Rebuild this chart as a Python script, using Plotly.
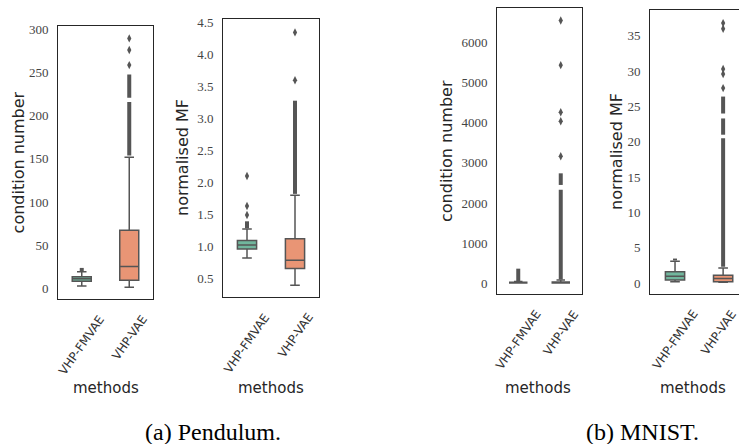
import plotly.graph_objects as go

W, H = 739, 444

methods = ["VHP-FMVAE", "VHP-VAE"]
box_fill = ["#71b69d", "#e99575"]
edge = "#555555"

# ---- (a) Pendulum: condition number ----
pc_q1 = [8.0, 9.0]
pc_med = [10.7, 25.0]
pc_q3 = [13.0, 67.0]
pc_lo = [2.3, 1.0]
pc_hi = [18.8, 152.0]
pc_dense = [[(19.5, 23.4)], [(154, 216), (221, 248)]]
pc_sparse = [[], [259, 276.5, 290]]

# ---- (a) Pendulum: normalised MF ----
pm_q1 = [0.956, 0.65]
pm_med = [1.018, 0.78]
pm_q3 = [1.09, 1.118]
pm_lo = [0.816, 0.39]
pm_hi = [1.27, 1.80]
pm_dense = [[(1.28, 1.39)], [(1.82, 3.28)]]
pm_sparse = [[1.49, 1.63, 2.10], [3.60, 4.35]]

# ---- (b) MNIST: condition number ----
mc_q1 = [5, 3]
mc_med = [10, 10]
mc_q3 = [20, 30]
mc_lo = [0, 0]
mc_hi = [40, 75]
mc_dense = [[(45, 360)], [(90, 2330), (2450, 2740)]]
mc_sparse = [[], [3165, 4040, 4265, 5440, 6555]]

# ---- (b) MNIST: normalised MF ----
mm_q1 = [0.42, 0.18]
mm_med = [0.98, 0.66]
mm_q3 = [1.59, 1.12]
mm_lo = [0.18, 0.1]
mm_hi = [3.09, 2.15]
mm_dense = [[(3.2, 3.47)], [(2.3, 20.5), (21.0, 23.3), (24.0, 26.4)]]
mm_sparse = [[], [27.6, 29.6, 30.3, 36.0, 36.8]]

y_titles = ["condition number", "normalised MF", "condition number", "normalised MF"]
x_title = "methods"
captions = ["(a) Pendulum.", "(b) MNIST."]

ticks = [
    [0, 50, 100, 150, 200, 250, 300],
    [0.5, 1.0, 1.5, 2.0, 2.5, 3.0, 3.5, 4.0, 4.5],
    [0, 1000, 2000, 3000, 4000, 5000, 6000],
    [0, 5, 10, 15, 20, 25, 30, 35],
]
tick_text = [
    [str(t) for t in ticks[0]],
    ["%.1f" % t for t in ticks[1]],
    [str(t) for t in ticks[2]],
    [str(t) for t in ticks[3]],
]

panels = [
    (pc_q1, pc_med, pc_q3, pc_lo, pc_hi, pc_dense, pc_sparse),
    (pm_q1, pm_med, pm_q3, pm_lo, pm_hi, pm_dense, pm_sparse),
    (mc_q1, mc_med, mc_q3, mc_lo, mc_hi, mc_dense, mc_sparse),
    (mm_q1, mm_med, mm_q3, mm_lo, mm_hi, mm_dense, mm_sparse),
]

# layout geometry (pixels)
px_x = [(58, 153), (223, 319), (497, 582), (650, 739)]
px_y = [(23, 298), (16, 296), (5, 293), (7, 293)]
y_ranges = [[-12.7, 304.6], [0.204, 4.562], [-273, 6868], [-1.55, 38.66]]
x_ranges = [[-0.5, 1.5], [-0.5, 1.5], [-0.5, 1.5], [-0.52, 1.33]]
ytitle_x = [18, 183, 447, 617]
methods_x = [105.5, 271, 538, 693]

fig = go.Figure()
layout = dict(
    width=W, height=H, margin=dict(l=0, r=0, t=0, b=0),
    plot_bgcolor="white", paper_bgcolor="white", showlegend=False,
)
annotations = []

for p, (q1, med, q3, lo, hi, dense, sparse) in enumerate(panels):
    xa = "x" if p == 0 else "x%d" % (p + 1)
    ya = "y" if p == 0 else "y%d" % (p + 1)
    for i in range(2):
        fig.add_trace(go.Box(
            x=[i], q1=[q1[i]], median=[med[i]], q3=[q3[i]],
            lowerfence=[lo[i]], upperfence=[hi[i]],
            fillcolor=box_fill[i], line=dict(color=edge, width=1.5),
            boxpoints=False, width=0.4, whiskerwidth=0.5,
            xaxis=xa, yaxis=ya, hoverinfo="skip",
        ))
        for (a, b) in dense[i]:
            fig.add_trace(go.Scatter(
                x=[i, i], y=[a, b], mode="lines",
                line=dict(color=edge, width=4),
                xaxis=xa, yaxis=ya, hoverinfo="skip",
            ))
        if sparse[i]:
            fig.add_trace(go.Scatter(
                x=[i] * len(sparse[i]), y=sparse[i], mode="markers",
                marker=dict(symbol="diamond-tall", size=6, color=edge),
                xaxis=xa, yaxis=ya, hoverinfo="skip",
            ))
    x0, x1 = px_x[p]
    yt, yb = px_y[p]
    xkey = "xaxis" if p == 0 else "xaxis%d" % (p + 1)
    ykey = "yaxis" if p == 0 else "yaxis%d" % (p + 1)
    layout[xkey] = dict(
        domain=[x0 / W, min(1.0, x1 / W)], anchor=ya, range=x_ranges[p],
        showline=True, linecolor="#262626", linewidth=1, mirror=True,
        showgrid=False, zeroline=False, showticklabels=False, ticks="",
        fixedrange=True,
    )
    layout[ykey] = dict(
        domain=[1 - yb / H, 1 - yt / H], anchor=xa, range=y_ranges[p],
        showline=True, linecolor="#262626", linewidth=1,
        mirror=(p != 3),
        showgrid=False, zeroline=False, ticks="",
        tickvals=ticks[p], ticktext=tick_text[p],
        tickfont=dict(family="Liberation Serif", size=13, color="#444444"),
        ticklabelstandoff=6,
    )
    # rotated category labels
    for i in range(2):
        xi = i
        if p == 3 and i == 1:
            xi = 0.9  # keep the label inside the picture edge
        annotations.append(dict(
            x=xi, xref=xa, y=1 - (yb + 11) / H, yref="paper",
            text=methods[i], textangle=-55, showarrow=False,
            xanchor="center", yanchor="top",
            font=dict(family="DejaVu Sans", size=12, color="#333333"),
        ))
    annotations.append(dict(
        x=ytitle_x[p] / W, y=1 - (yt + yb) / 2 / H, xref="paper", yref="paper",
        text=y_titles[p], textangle=-90, showarrow=False,
        xanchor="center", yanchor="middle",
        font=dict(family="DejaVu Sans", size=16, color="#262626"),
    ))
    annotations.append(dict(
        x=methods_x[p] / W, y=1 - 388 / H, xref="paper", yref="paper",
        text=x_title, showarrow=False, xanchor="center", yanchor="middle",
        font=dict(family="DejaVu Sans", size=15, color="#262626"),
    ))

annotations.append(dict(
    x=213 / W, y=1 - 432 / H, xref="paper", yref="paper", text=captions[0],
    showarrow=False, xanchor="center", yanchor="middle",
    font=dict(family="Liberation Serif", size=24, color="black"),
))
annotations.append(dict(
    x=642 / W, y=1 - 432 / H, xref="paper", yref="paper", text=captions[1],
    showarrow=False, xanchor="center", yanchor="middle",
    font=dict(family="Liberation Serif", size=24, color="black"),
))
layout["annotations"] = annotations
fig.update_layout(**layout)
fig.write_html("out.html", config={"displayModeBar": False})
